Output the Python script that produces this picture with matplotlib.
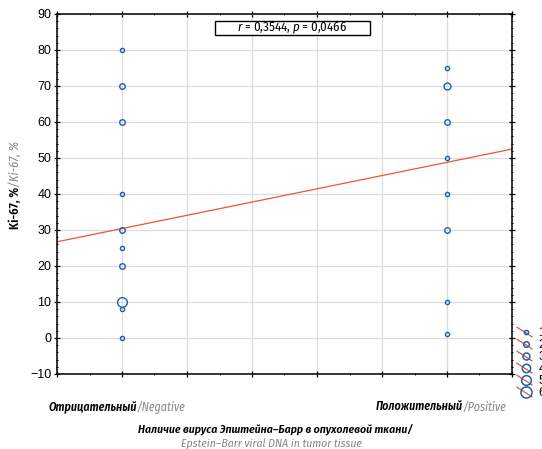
#! /usr/bin/env python3

import numpy as np
import matplotlib
matplotlib.use('Agg')
from matplotlib import pylab as plt
from matplotlib.lines import Line2D
from matplotlib.patches import Rectangle
from matplotlib.legend_handler import HandlerBase
from matplotlib.ticker import MultipleLocator

# data: value of Ki-67 and number of cases at that value
neg_values = [80, 70, 60, 40, 30, 25, 20, 10, 8, 0]
neg_counts = [1, 2, 2, 1, 2, 1, 2, 5, 1, 1]
pos_values = [75, 70, 60, 50, 40, 30, 10, 1]
pos_counts = [1, 3, 2, 1, 1, 2, 1, 1]
fit_intercept = 12.0
fit_slope = 18.4
legend_counts = [1, 2, 3, 4, 5, 6]

BLUE = '#1f5fb0'
RED = '#f0552f'
GRAY = '#868686'
NARROW = ['Fira Sans Condensed', 'DejaVu Sans']

plt.rcParams['font.family'] = ['Liberation Sans', 'DejaVu Sans']
plt.rcParams['mathtext.fontset'] = 'custom'
plt.rcParams['mathtext.rm'] = 'Fira Sans Condensed'
plt.rcParams['mathtext.it'] = 'Fira Sans Condensed:italic'


def msize(n):
    return 3.0 + 1.0 * (n - 1)


def pieces(fig, x, y, parts, rotation=0, size=9):
    # draw a line of text made of differently styled parts, centred on x, y
    renderer = fig.canvas.get_renderer()
    texts = []
    for s, props in parts:
        t = fig.text(0, 0, s, fontsize=size, family=NARROW, rotation=rotation,
                     rotation_mode='anchor', ha='left', va='baseline', **props)
        texts.append(t)
    W, H = fig.bbox.width, fig.bbox.height
    if rotation == 0:
        lens = [t.get_window_extent(renderer).width for t in texts]
        pos = x * W - sum(lens) / 2
        for t, l in zip(texts, lens):
            t.set_position((pos / W, y))
            pos += l
    else:
        lens = [t.get_window_extent(renderer).height for t in texts]
        pos = y * H - sum(lens) / 2
        for t, l in zip(texts, lens):
            t.set_position((x, pos / H))
            pos += l
    return texts


class DiagonalHandler(HandlerBase):
    def create_artists(self, legend, orig_handle, xdescent, ydescent,
                       width, height, fontsize, trans):
        x0, x1 = -xdescent, -xdescent + width
        y0, y1 = -ydescent + height * 1.0, -ydescent - height * 0.1
        line = Line2D([x0, x1], [y0, y1], color=RED, lw=0.9, transform=trans)
        mark = Line2D([(x0 + x1) / 2 + 1], [(y0 + y1) / 2], marker='o',
                      ms=orig_handle.get_markersize(), mfc='none', mec=BLUE,
                      mew=1.1, ls='none', transform=trans)
        return [line, mark]


fig = plt.figure(figsize=(5.42, 4.49), dpi=100)
ax = fig.add_axes([57 / 542, 1 - 374 / 449, 455 / 542, 360 / 449])

ax.set_xlim(0.8, 2.2)
ax.set_ylim(-10, 90)
ax.xaxis.set_major_locator(MultipleLocator(0.2))
ax.xaxis.set_minor_locator(MultipleLocator(0.1))
ax.yaxis.set_major_locator(MultipleLocator(10))
ax.yaxis.set_minor_locator(MultipleLocator(2))
ax.set_xticklabels([])
ax.grid(True, which='major', color='#dcdcdc', lw=0.9)
ax.set_axisbelow(True)
for side in ax.spines.values():
    side.set_linewidth(1.1)
ax.tick_params(which='both', top=True, right=True, direction='inout',
               labelsize=9, pad=2)
ax.tick_params(which='major', length=4, width=0.9)
ax.tick_params(which='minor', length=2, width=0.7)

fx = np.array([0.8, 2.2])
ax.plot(fx, fit_intercept + fit_slope * fx, color=RED, lw=0.9, zorder=2)

for xpos, vals, cnts in [(1, neg_values, neg_counts), (2, pos_values, pos_counts)]:
    for v, n in zip(vals, cnts):
        ax.plot([xpos], [v], marker='o', ms=msize(n), mfc='none', mec=BLUE,
                mew=1.0, ls='none', zorder=3)

# correlation box
ax.add_patch(Rectangle((158 / 455, 339 / 360), 155 / 455, 14 / 360,
                       transform=ax.transAxes, fc='white', ec='black', lw=1.0,
                       zorder=4))
ax.text(0.516, 0.961, '$r$ = 0,3544, $p$ = 0,0466', transform=ax.transAxes,
        ha='center', va='center', fontsize=9.2, family=NARROW, zorder=5)

handles = [Line2D([], [], marker='o', ms=msize(n), ls='none') for n in legend_counts]
fig.legend(handles, [str(n) for n in legend_counts], loc='upper left',
           bbox_to_anchor=(517 / 542, 1 - 327 / 449), frameon=False,
           handler_map={Line2D: DiagonalHandler()}, fontsize=9,
           handlelength=1.2, handletextpad=0.5, labelspacing=0.0,
           borderpad=0, borderaxespad=0)

black_it = dict(color='black', style='italic', weight='semibold')
gray_it = dict(color=GRAY, style='italic', weight='normal')
pieces(fig, 117 / 542, 1 - 411 / 449,
       [('Отрицательный', black_it), ('/Negative', gray_it)], size=8.6)
pieces(fig, 441 / 542, 1 - 411 / 449,
       [('Положительный', black_it), ('/Positive', gray_it)], size=8.6)
pieces(fig, 275 / 542, 1 - 434 / 449,
       [('Наличие вируса Эпштейна–Барр в опухолевой ткани/', black_it)], size=8.4)
pieces(fig, 271 / 542, 1 - 447 / 449,
       [('Epstein–Barr viral DNA in tumor tissue', gray_it)], size=8.4)
pieces(fig, 19 / 542, 1 - 185 / 449,
       [('Ki-67, %', dict(color='black', weight='semibold')), ('/Ki-67, %', gray_it)],
       rotation=90, size=9)

fig.savefig('out.png', dpi=100)
